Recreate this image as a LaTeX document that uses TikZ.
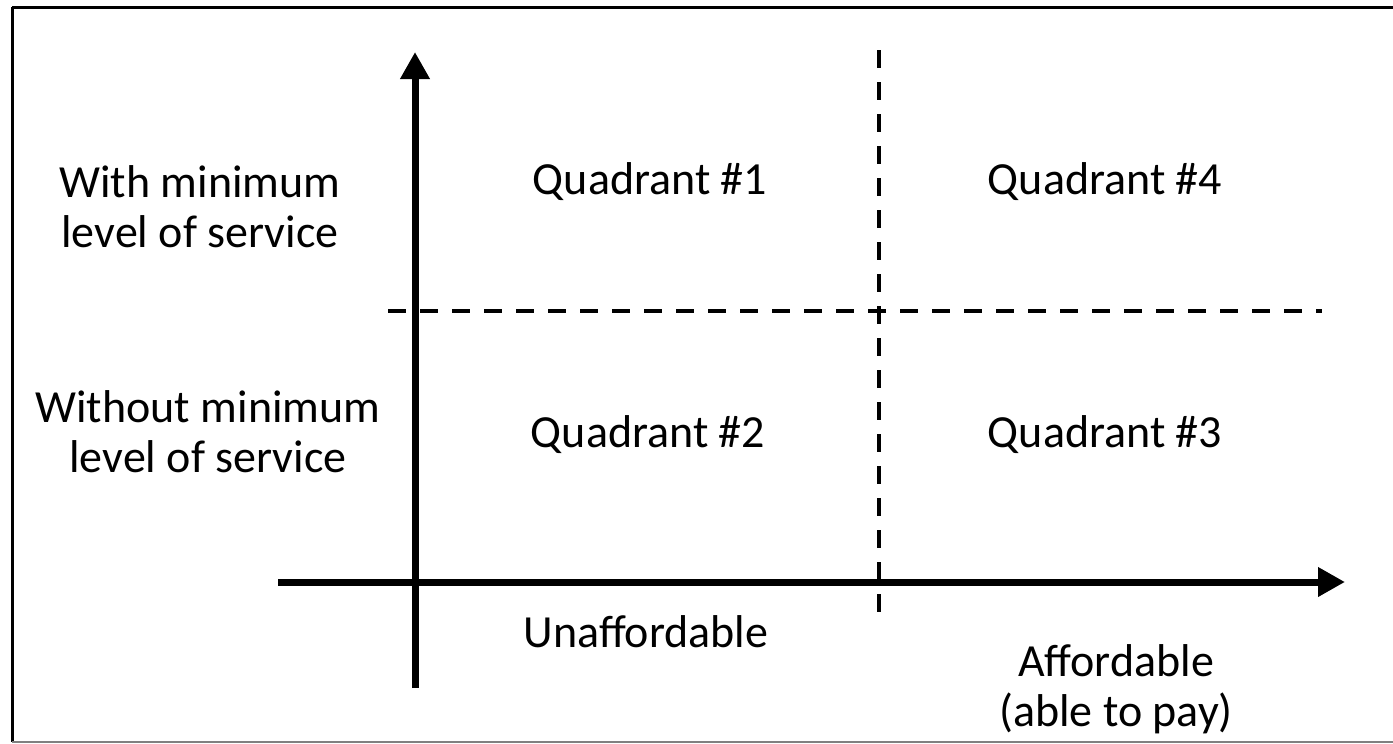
\documentclass[tikz,border=0pt]{standalone}
\usepackage{fontspec}
\setmainfont{Carlito}
\usetikzlibrary{arrows.meta}
\begin{document}
\begin{tikzpicture}[x=1pt,y=-1pt,
  axis/.style={line width=7pt,-{Triangle[length=27pt,width=28pt]}},
  divider/.style={line width=4pt,dash pattern=on 18pt off 14pt},
  lbl/.style={font=\fontsize{46}{50}\selectfont,align=center,inner sep=0pt}]
\useasboundingbox (0,0) rectangle (1393,744);
\draw[line width=3pt] (12,7) -- (1400,7) (12,7) -- (12,742);
\draw[line width=2pt,gray] (12,742) -- (1400,742);
% coordinates
\coordinate (yb) at (415,688);
\coordinate (yt) at (415,52);
\coordinate (xl) at (278,582);
\coordinate (xr) at (1345,582);
\coordinate (hl) at (388,311);
\coordinate (hr) at (1322,311);
\coordinate (vt) at (879,50);
\coordinate (vb) at (879,612);
% dashed dividers
\draw[divider] (hl) -- (hr);
\draw[divider] (vt) -- (vb);
% axes
\draw[axis] (yb) -- (yt);
\draw[axis] (xl) -- (xr);
% labels
\node[lbl] (with) at (200,207) {With minimum\\level of service};
\node[lbl] (without) at (208,432) {Without minimum\\level of service};
\node[lbl] (q1) at (650,182) {Quadrant \#1};
\node[lbl] (q4) at (1105,182) {Quadrant \#4};
\node[lbl] (q2) at (648,435) {Quadrant \#2};
\node[lbl] (q3) at (1105,435) {Quadrant \#3};
\node[lbl] (unaff) at (646,632) {Unaffordable};
\node[lbl] (aff) at (1116,689) {Affordable\\(able to pay)};
\end{tikzpicture}
\end{document}
